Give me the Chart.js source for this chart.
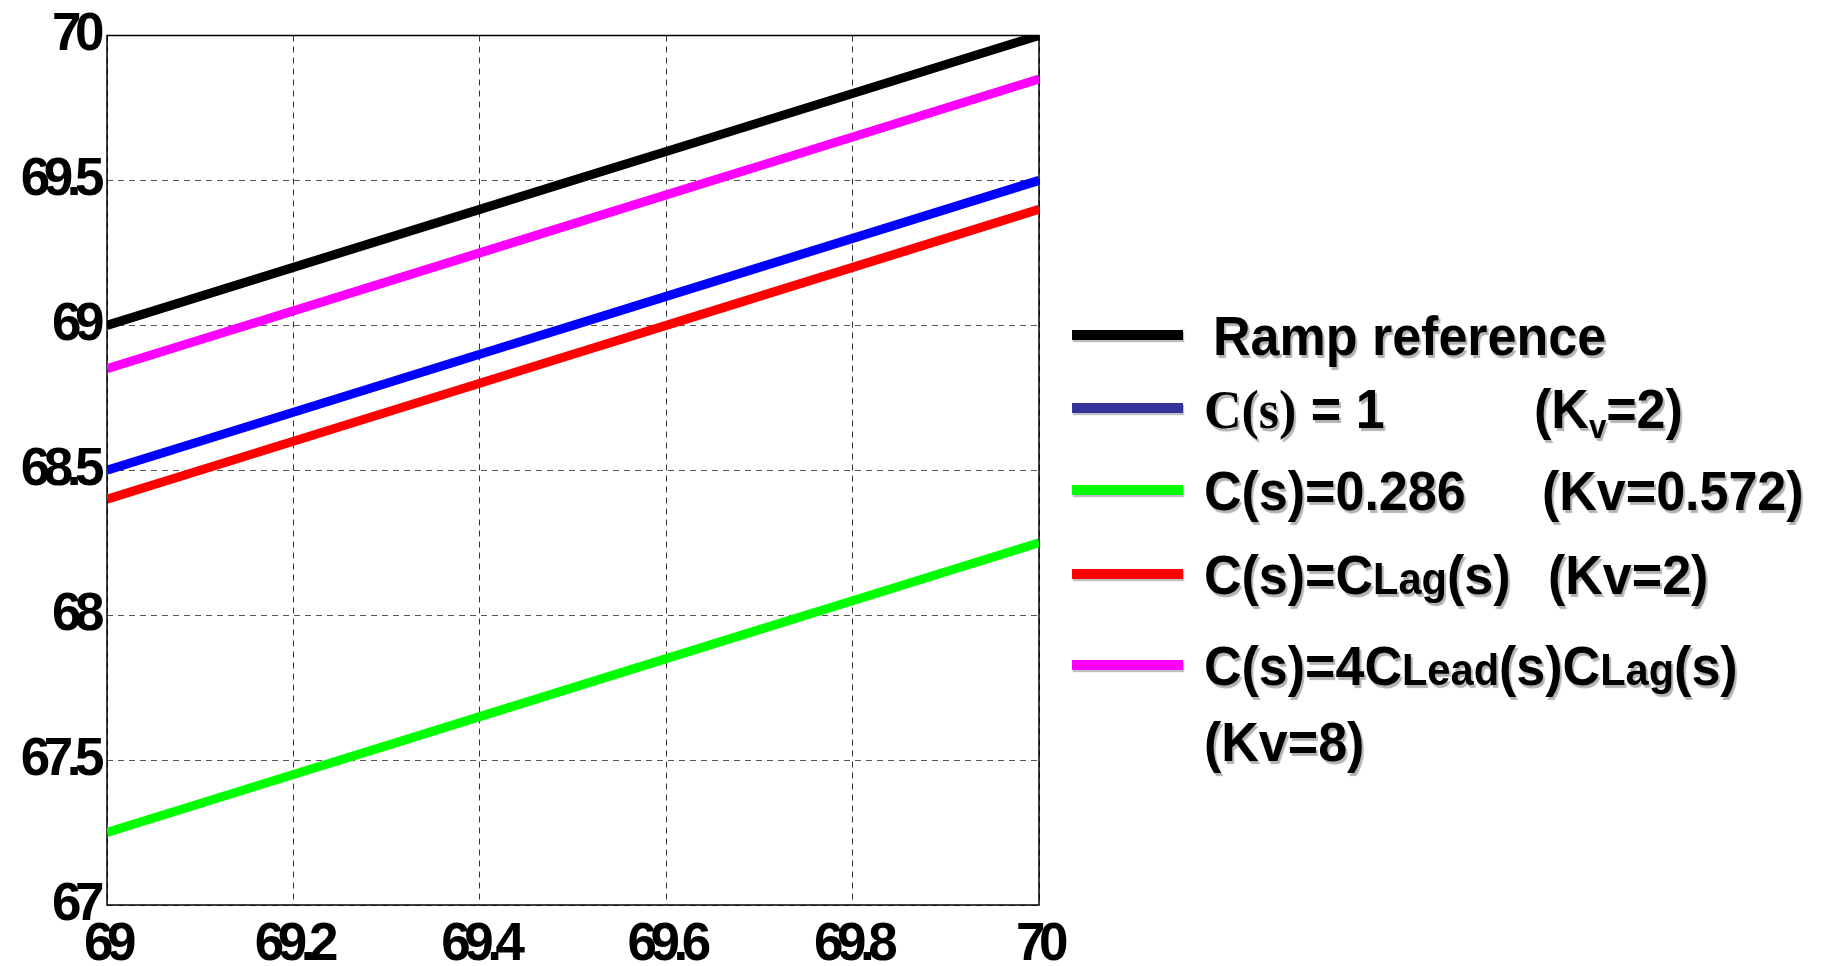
<!DOCTYPE html>
<html>
<head>
<meta charset="utf-8">
<script src="https://cdn.jsdelivr.net/npm/chart.js@4/dist/chart.umd.min.js"></script>
<style>
  html,body{margin:0;padding:0;background:#fff}
  #wrap{position:relative;width:1829px;height:966px;overflow:hidden}
  #plot{position:absolute;left:0;top:0}
  .key{position:absolute;left:1072px;width:111px;height:10px;box-shadow:1px 2px 1px rgba(0,0,0,0.25)}
  .lbl{position:absolute;font:bold 52px "Liberation Sans",Arial,sans-serif;line-height:52px;white-space:nowrap;color:#000;
       text-shadow:2px 3px 1px rgba(0,0,0,0.3);transform:scaleY(1.06);transform-origin:0 50%}
  .serif{font-family:"Liberation Serif","Times New Roman",serif}
  .sm{font-size:0.8em}
  sub{font-size:0.6em;vertical-align:-0.3em;line-height:0}
</style>
</head>
<body>
<div id="wrap">
  <canvas id="plot" width="1829" height="966"></canvas>
  <div id="legend"></div>
</div>
<script>
// ── Data ─────────────────────────────────────────────────────
const timeX     = [69, 69.1, 69.2, 69.3, 69.4, 69.5, 69.6, 69.7, 69.8, 69.9, 70];
const rampRef   = [69.0, 69.1, 69.2, 69.3, 69.4, 69.5, 69.6, 69.7, 69.8, 69.9, 70.0];
const cUnity    = [68.5, 68.6, 68.7, 68.8, 68.9, 69.0, 69.1, 69.2, 69.3, 69.4, 69.5];
const cGain     = [67.25, 67.35, 67.45, 67.55, 67.65, 67.75, 67.85, 67.95, 68.05, 68.15, 68.25];
const cLag      = [68.4, 68.5, 68.6, 68.7, 68.8, 68.9, 69.0, 69.1, 69.2, 69.3, 69.4];
const cLeadLag  = [68.85, 68.95, 69.05, 69.15, 69.25, 69.35, 69.45, 69.55, 69.65, 69.75, 69.85];
const xTicks    = [69, 69.2, 69.4, 69.6, 69.8, 70];
const yTicks    = [67, 67.5, 68, 68.5, 69, 69.5, 70];

// ── Legend rows (html so the mixed fonts / subscripts work) ──
const legendRows = [
  { color:'#000000', y:335, x:1213, html:'Ramp reference' },
  { color:'#333399', y:408, x:1204, html:'<span class="serif">C(s)</span> = 1', right:{x:1534, html:'(K<sub>v</sub>=2)'} },
  { color:'#00ff00', y:490, x:1204, html:'C(s)=0.286', right:{x:1542, html:'(Kv=0.572)'} },
  { color:'#ff0000', y:574, x:1204, html:'C(s)=C<span class="sm">Lag</span>(s)', right:{x:1548, html:'(Kv=2)'} },
  { color:'#ff00ff', y:665, x:1204, html:'C(s)=4C<span class="sm">Lead</span>(s)C<span class="sm">Lag</span>(s)' },
];
const legendExtra = { y:741, x:1204, html:'(Kv=8)' };

const leg = document.getElementById('legend');
const lbl = (x, y, html) => `<div class="lbl" style="left:${x}px;top:${y-25}px">${html}</div>`;
leg.innerHTML = legendRows.map(r => `
  <div class="key" style="top:${r.y-5}px;background:${r.color}"></div>
  ${lbl(r.x, r.y, r.html)}
  ${r.right ? lbl(r.right.x, r.y, r.right.html) : ''}`).join('') + lbl(legendExtra.x, legendExtra.y, legendExtra.html);

// ── Chart ────────────────────────────────────────────────────
const pts = ys => timeX.map((x,i) => ({x, y:ys[i]}));
const line = (data, color) => ({ data:pts(data), borderColor:color, borderWidth:9, pointRadius:0, tension:0, clip:0, borderCapStyle:'butt' });

// solid box around the plot area + tight digit spacing on tick labels
const frame = {
  id:'frame',
  beforeDraw(c){ c.ctx.letterSpacing = '-6.5px'; },
  beforeDatasetsDraw(c){
    const {ctx, chartArea:a} = c;
    ctx.save();
    ctx.letterSpacing = '0px';
    ctx.strokeStyle = '#000'; ctx.lineWidth = 1.5;
    ctx.strokeRect(a.left, a.top, a.right - a.left, a.bottom - a.top);
    ctx.restore();
  }
};

const tickFont = { family:'"Liberation Sans", Arial, sans-serif', size:53, weight:'bold', lineHeight:1 };
const gridCommon = { color:'#333', lineWidth:1, drawTicks:false };

new Chart(document.getElementById('plot'), {
  type:'line',
  data:{ datasets:[
    line(rampRef,  '#000000'),
    line(cLeadLag, '#ff00ff'),
    line(cUnity,   '#0000ff'),
    line(cLag,     '#ff0000'),
    line(cGain,    '#00ff00'),
  ]},
  options:{
    responsive:false, animation:false,
    layout:{ padding:{ left:0, top:32, right:790, bottom:0 } },
    plugins:{ legend:{display:false}, tooltip:{enabled:false} },
    scales:{
      x:{ type:'linear', min:69, max:70,
          afterBuildTicks:s => { s.ticks = xTicks.map(v => ({value:v})); },
          afterFit:s => { s.height = 61; },
          grid:gridCommon, border:{display:false, dash:[6,5]},
          ticks:{ font:tickFont, color:'#000', padding:14, maxRotation:0, autoSkip:false,
                  callback:v => String(+v.toFixed(1)) } },
      y:{ type:'linear', min:67, max:70,
          afterBuildTicks:s => { s.ticks = yTicks.map(v => ({value:v})); },
          afterFit:s => { s.width = 107; },
          grid:{...gridCommon, color:'#555'}, border:{display:false, dash:[6,5]},
          ticks:{ font:tickFont, color:'#000', padding:9, autoSkip:false,
                  callback:v => String(+v.toFixed(1)) } },
    }
  },
  plugins:[frame]
});
</script>
</body>
</html>
